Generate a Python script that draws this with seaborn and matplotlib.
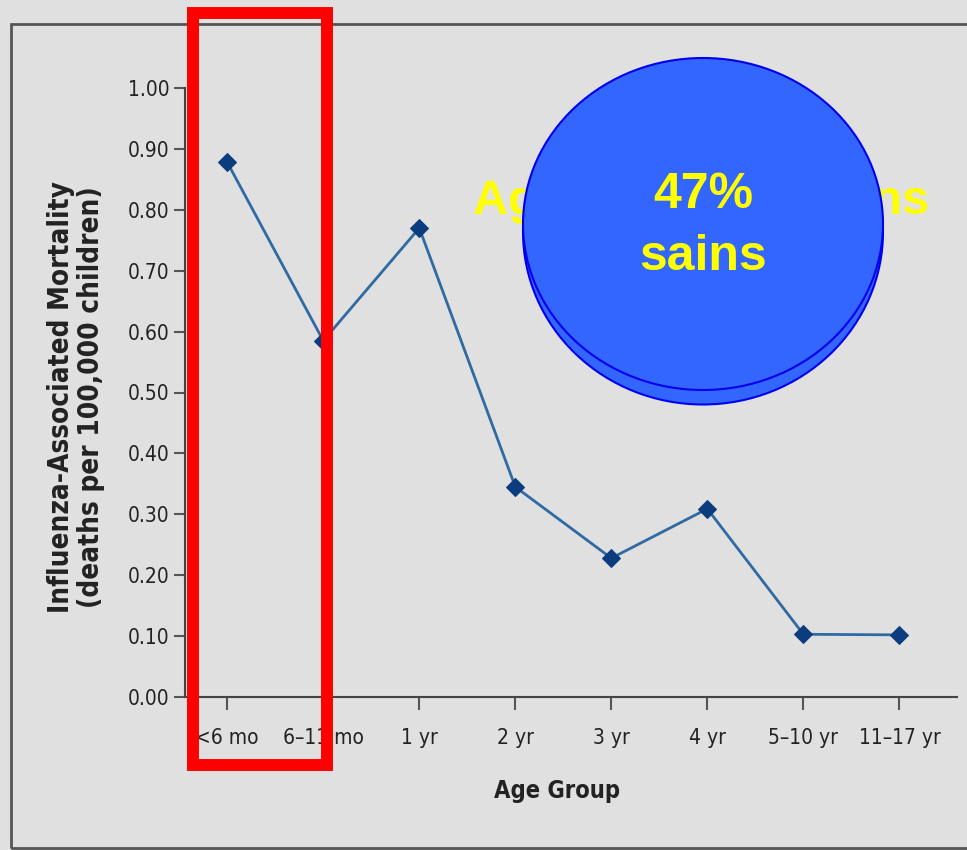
import matplotlib
matplotlib.use("Agg")
import matplotlib.pyplot as plt
import seaborn as sns
import pandas as pd
from matplotlib.patches import Ellipse, Rectangle
from matplotlib import font_manager

age_groups = ["<6 mo", "6\u201311 mo", "1 yr", "2 yr", "3 yr", "4 yr", "5\u201310 yr", "11\u201317 yr"]
mortality = [0.878, 0.585, 0.770, 0.345, 0.228, 0.309, 0.103, 0.102]
y_ticks = [0.0, 0.1, 0.2, 0.3, 0.4, 0.5, 0.6, 0.7, 0.8, 0.9, 1.0]

sns.set_theme(style="ticks")
names = {f.name for f in font_manager.fontManager.ttflist}
if "Liberation Sans Narrow" in names:
    plt.rcParams["font.family"] = ["Liberation Sans Narrow", "DejaVu Sans"]
else:
    plt.rcParams["font.family"] = ["DejaVu Sans"]
    plt.rcParams["font.stretch"] = "condensed"

BG = "#e0e0e0"
W, H = 967, 850
fig = plt.figure(figsize=(W / 100, H / 100), dpi=100, facecolor=BG)

def fx(px):
    return px / W

def fy(py):
    return 1 - py / H

ax = fig.add_axes([fx(185), fy(697), fx(957) - fx(185), fy(88) - fy(697)])
ax.set_facecolor(BG)

df = pd.DataFrame({"age": age_groups, "mort": mortality})
sns.lineplot(data=df, x="age", y="mort", sort=False, ax=ax, color="#2f6aa3", linewidth=2,
             marker="D", markersize=9, markerfacecolor="#0b3d7e", markeredgecolor="#0b3d7e")

ax.set_xlim(-0.44, 7.6)
ax.set_ylim(0, 1.0)
ax.set_yticks(y_ticks)
ax.set_yticklabels([f"{v:.2f}" for v in y_ticks], fontsize=15, color="#222222")
ax.set_xticks(range(len(age_groups)))
ax.set_xticklabels(age_groups, fontsize=15, color="#222222")
ax.tick_params(axis="y", length=8, width=1.5, color="#555555", pad=3)
ax.tick_params(axis="x", length=9, width=1.5, color="#555555", pad=13)
for s in ["top", "right"]:
    ax.spines[s].set_visible(False)
for s in ["left", "bottom"]:
    ax.spines[s].set_color("#444444")
    ax.spines[s].set_linewidth(1.5)
ax.set_xlabel("")
ax.set_ylabel("")

fig.text(fx(76), fy(397), "Influenza-Associated Mortality\n(deaths per 100,000 children)",
         rotation=90, ha="center", va="center", fontsize=20, fontweight="bold",
         color="#222222", linespacing=1.05)
fig.text(fx(557), fy(791), "Age Group", ha="center", va="center", fontsize=17,
         fontweight="bold", color="#222222")

# panel border
fig.patches.append(Rectangle((fx(11), fy(848)), 1.2, fy(24) - fy(848), transform=fig.transFigure,
                             fill=False, edgecolor="#555555", linewidth=2))

# hidden yellow text behind ellipse
fig.text(fx(701), fy(202), "Age moins de 2 ans", ha="center", va="center", fontsize=35,
         fontweight="bold", color="#ffff00", family=["Liberation Sans", "DejaVu Sans"],
         stretch="normal", zorder=5)

# ellipses (3D disc)
ell_back = Ellipse((fx(703), fy(232)), fx(883) - fx(523), fy(60) - fy(405), transform=fig.transFigure,
                   facecolor="#3366ff", edgecolor="#0000ee", linewidth=1.5, zorder=6)
ell_front = Ellipse((fx(703), fy(224)), fx(883) - fx(523), fy(58) - fy(390), transform=fig.transFigure,
                    facecolor="#3366ff", edgecolor="#0000ee", linewidth=1.5, zorder=7)
fig.patches.append(ell_back)
fig.patches.append(ell_front)
fig.text(fx(703), fy(226), "47%\nsains", ha="center", va="center", fontsize=36, fontweight="bold",
         color="#ffff00", family=["Liberation Sans", "DejaVu Sans"], stretch="normal",
         zorder=8, linespacing=1.45)

# red highlight rectangle
fig.patches.append(Rectangle((fx(193), fy(765)), fx(327) - fx(193), fy(13) - fy(765),
                             transform=fig.transFigure, fill=False, edgecolor="#ff0000",
                             linewidth=8.6, zorder=10))

fig.savefig("out.png", dpi=100, facecolor=BG)
